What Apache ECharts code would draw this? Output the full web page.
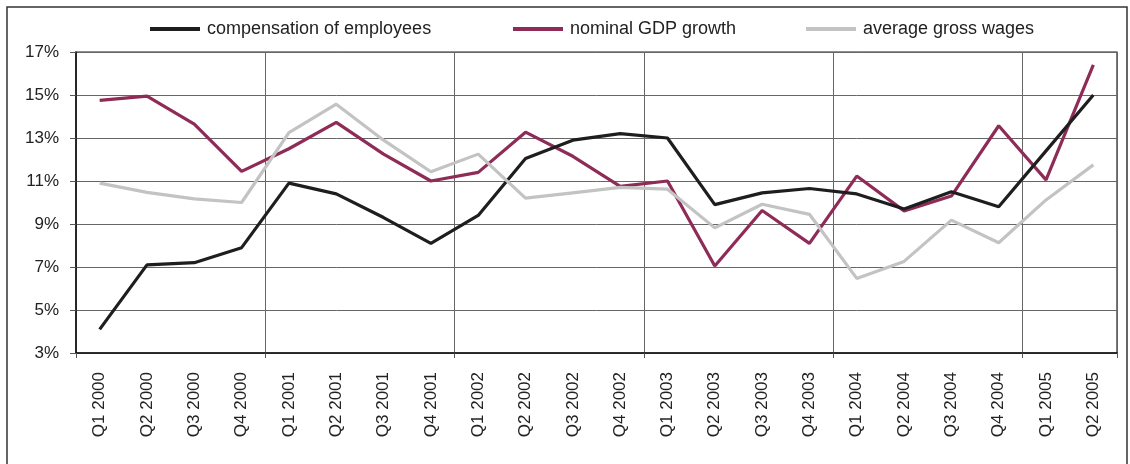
<!DOCTYPE html>
<html>
<head>
<meta charset="utf-8">
<script src="https://cdn.jsdelivr.net/npm/echarts@6/dist/echarts.min.js"></script>
<style>
  html, body { margin: 0; padding: 0; background: #fff; }
  #chart { width: 1130px; height: 464px; }
</style>
</head>
<body>
<div id="chart"></div>
<script>
// Quarterly labels
const quarters = [
  'Q1 2000', 'Q2 2000', 'Q3 2000', 'Q4 2000',
  'Q1 2001', 'Q2 2001', 'Q3 2001', 'Q4 2001',
  'Q1 2002', 'Q2 2002', 'Q3 2002', 'Q4 2002',
  'Q1 2003', 'Q2 2003', 'Q3 2003', 'Q4 2003',
  'Q1 2004', 'Q2 2004', 'Q3 2004', 'Q4 2004',
  'Q1 2005', 'Q2 2005'
];

// Year-on-year growth rates, %
const compensation = [4.1, 7.1, 7.2, 7.9, 10.9, 10.4, 9.3, 8.1, 9.4, 12.05, 12.9, 13.2, 13.0, 9.9, 10.45, 10.65, 10.4, 9.7, 10.5, 9.8, 12.4, 15.0];
const gdpGrowth    = [14.75, 14.95, 13.65, 11.45, 12.5, 13.73, 12.25, 11.0, 11.4, 13.27, 12.15, 10.75, 11.0, 7.05, 9.63, 8.1, 11.23, 9.61, 10.3, 13.57, 11.05, 16.4];
const grossWages   = [10.9, 10.47, 10.17, 10.0, 13.25, 14.57, 12.9, 11.43, 12.25, 10.2, 10.45, 10.7, 10.62, 8.82, 9.92, 9.45, 6.47, 7.26, 9.18, 8.13, 10.12, 11.75];

// Y axis range and step, %
const yMin = 3, yMax = 17, yStep = 2;

const names = ['compensation of employees', 'nominal GDP growth', 'average gross wages'];
const colors = ['#1e1e1e', '#8e2b57', '#c3c3c3'];
const font = 'Liberation Sans, Arial, sans-serif';

// year boundaries: every fourth quarter
const yearStart = (idx) => idx % 4 === 0 && idx < quarters.length;

const chart = echarts.init(document.getElementById('chart'), null, { renderer: 'canvas' });

function legendAt(i, left) {
  return {
    data: [names[i]],
    left: left,
    top: 20,
    padding: 0,
    icon: 'rect',
    itemWidth: 50,
    itemHeight: 4,
    itemGap: 0,
    selectedMode: false,
    textStyle: { fontFamily: font, fontSize: 18, color: '#222', padding: [0, 0, 0, 2] }
  };
}

chart.setOption({
  animation: false,
  backgroundColor: '#fff',
  graphic: [{
    type: 'rect',
    shape: { x: 7, y: 7, width: 1120, height: 480 },
    style: { fill: 'none', stroke: '#333', lineWidth: 1.5 },
    silent: true
  }],
  legend: [legendAt(0, 150), legendAt(1, 513), legendAt(2, 806)],
  grid: {
    left: 76, right: 13, top: 52, bottom: 111,
    show: true, borderColor: '#222', borderWidth: 1.2, backgroundColor: 'transparent'
  },
  xAxis: {
    type: 'category',
    data: quarters,
    boundaryGap: true,
    axisLine: { lineStyle: { color: '#111', width: 1.5 } },
    axisTick: { show: true, interval: yearStart, length: 5, lineStyle: { color: '#555', width: 1 } },
    splitLine: { show: true, interval: yearStart, lineStyle: { color: '#666', width: 1 } },
    axisLabel: {
      interval: 0, rotate: 90, margin: 19,
      fontFamily: font, fontSize: 17, color: '#222'
    }
  },
  yAxis: {
    type: 'value',
    min: yMin, max: yMax, interval: yStep,
    axisLine: { show: true, lineStyle: { color: '#111', width: 1.5 } },
    axisTick: { show: true, length: 6, lineStyle: { color: '#555', width: 1 } },
    splitLine: { show: true, lineStyle: { color: '#666', width: 1 } },
    axisLabel: {
      formatter: '{value}%', margin: 17,
      fontFamily: font, fontSize: 17, color: '#222'
    }
  },
  series: [
    { name: names[0], type: 'line', data: compensation, symbol: 'none', z: 3,
      lineStyle: { color: colors[0], width: 3.2 }, itemStyle: { color: colors[0] } },
    { name: names[1], type: 'line', data: gdpGrowth, symbol: 'none', z: 2,
      lineStyle: { color: colors[1], width: 3.2 }, itemStyle: { color: colors[1] } },
    { name: names[2], type: 'line', data: grossWages, symbol: 'none', z: 4,
      lineStyle: { color: colors[2], width: 3.2 }, itemStyle: { color: colors[2] } }
  ]
});
</script>
</body>
</html>
